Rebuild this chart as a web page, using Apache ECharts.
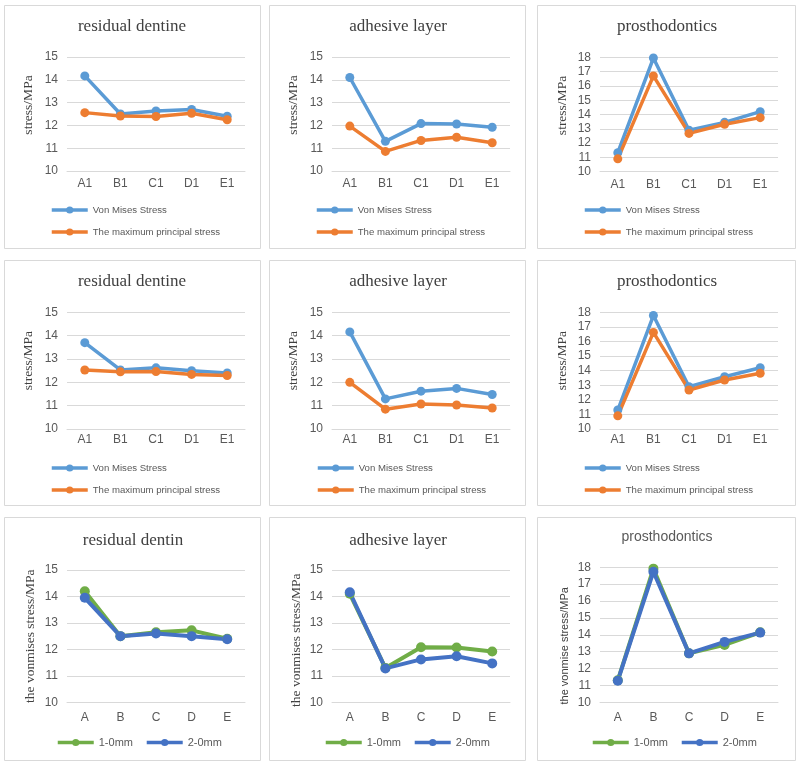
<!DOCTYPE html>
<html><head><meta charset="utf-8">
<script src="https://cdn.jsdelivr.net/npm/echarts@6/dist/echarts.min.js"></script>
<style>html,body{margin:0;padding:0;background:#fff}#c{width:800px;height:766px}</style>
</head><body><div id="c"></div>
<script>
// ---- data ----
const catsNumbered = ['A1', 'B1', 'C1', 'D1', 'E1'];
const catsPlain = ['A', 'B', 'C', 'D', 'E'];
const seriesNamesStress = ['Von Mises Stress', 'The maximum principal stress'];
const seriesNamesGap = ['1-0mm', '2-0mm'];
const titles = ['residual dentine', 'adhesive layer', 'prosthodontics',
                'residual dentine', 'adhesive layer', 'prosthodontics',
                'residual dentin', 'adhesive layer', 'prosthodontics'];
const yNames = ['stress/MPa', 'stress/MPa', 'stress/MPa',
                'stress/MPa', 'stress/MPa', 'stress/MPa',
                'the vonmises stress/MPa', 'the vonmises stress/MPa', 'the vonmise stress/MPa'];
const yTicksSmall = [10, 11, 12, 13, 14, 15];
const yTicksLarge = [10, 11, 12, 13, 14, 15, 16, 17, 18];

const dentine1Von = [14.17, 12.5, 12.63, 12.7, 12.4];
const dentine1Max = [12.56, 12.41, 12.39, 12.53, 12.25];
const adhesive1Von = [14.1, 11.3, 12.08, 12.06, 11.92];
const adhesive1Max = [11.97, 10.86, 11.34, 11.48, 11.24];
const prosth1Von = [11.33, 17.95, 12.9, 13.45, 14.2];
const prosth1Max = [10.9, 16.7, 12.68, 13.32, 13.78];

const dentine2Von = [13.7, 12.53, 12.62, 12.5, 12.4];
const dentine2Max = [12.53, 12.45, 12.46, 12.34, 12.29];
const adhesive2Von = [14.16, 11.29, 11.62, 11.74, 11.48];
const adhesive2Max = [12.0, 10.85, 11.07, 11.03, 10.9];
const prosth2Von = [11.3, 17.78, 12.9, 13.58, 14.2];
const prosth2Max = [10.9, 16.62, 12.67, 13.36, 13.82];

const dentin3Gap1 = [14.2, 12.5, 12.65, 12.72, 12.4];
const dentin3Gap2 = [13.95, 12.5, 12.6, 12.5, 12.38];
const adhesive3Gap1 = [14.1, 11.3, 12.08, 12.07, 11.92];
const adhesive3Gap2 = [14.16, 11.28, 11.62, 11.74, 11.47];
const prosth3Gap1 = [11.3, 17.92, 12.9, 13.4, 14.15];
const prosth3Gap2 = [11.28, 17.74, 12.9, 13.58, 14.13];

const panelData = [
  [dentine1Von, dentine1Max], [adhesive1Von, adhesive1Max], [prosth1Von, prosth1Max],
  [dentine2Von, dentine2Max], [adhesive2Von, adhesive2Max], [prosth2Von, prosth2Max],
  [dentin3Gap1, dentin3Gap2], [adhesive3Gap1, adhesive3Gap2], [prosth3Gap1, prosth3Gap2]
];

// ---- layout / style ----
const SERIF = '"Liberation Serif","Times New Roman",serif';
const SANS = '"Liberation Sans",Arial,sans-serif';
const colorsStress = ['#5B9BD5', '#ED7D31'];
const colorsGap = ['#70AD47', '#4472C4'];
const boxes = [
  [4, 5, 256, 243], [269, 5, 256, 243], [537, 5, 258, 243],
  [4, 260, 256, 245], [269, 260, 256, 245], [537, 260, 258, 245],
  [4, 517, 256, 243], [269, 517, 256, 243], [537, 517, 258, 243]
];
const grids = [
  [67, 57, 178, 114], [332, 57, 178, 114], [600, 57.3, 178, 114.4],
  [67, 312.3, 178, 116.7], [332, 312.3, 178, 116.7], [600, 312.3, 178, 116.7],
  [67, 570, 178, 132.3], [332, 570, 178, 132.3], [600, 567.3, 178, 135]
];
const titlePos = [[132, 18], [398, 18], [667, 18], [132, 273], [398, 273], [667, 273], [133, 532], [398, 532], [667, 530]];
const nameGaps = [32, 32, 31, 32, 32, 31, 30, 29, 30];
const nameShift = [9, 9, 9, 10, 10, 10, 0, -4, -11]; // +up, -down
const xLabelMargin = [7, 7, 7, 5, 5, 5, 9, 9, 9];
const legendPos = [[50, 205], [315, 205], [583, 205], [50, 463], [316, 463], [583, 463], [56, 737], [324, 737], [591, 737]];

const option = {
  animation: false,
  backgroundColor: '#ffffff',
  title: [], grid: [], xAxis: [], yAxis: [], series: [], legend: [], graphic: []
};

for (let i = 0; i < 9; i++) {
  const bottomRow = i >= 6;
  const large = (i % 3) === 2;
  const sansTitle = i === 8;
  const b = boxes[i];
  option.graphic.push({
    type: 'rect', silent: true, z: -1,
    shape: { x: b[0] + 0.5, y: b[1] + 0.5, width: b[2], height: b[3] },
    style: { fill: 'none', stroke: '#D9D9D9', lineWidth: 1 }
  });
  option.title.push({
    text: titles[i], left: titlePos[i][0], top: titlePos[i][1], textAlign: 'center', padding: 0,
    textStyle: {
      fontFamily: sansTitle ? SANS : SERIF, fontWeight: 'normal',
      fontSize: sansTitle ? 14 : 17, color: sansTitle ? '#595959' : '#404040'
    }
  });
  const g = grids[i];
  option.grid.push({ left: g[0], top: g[1], width: g[2], height: g[3], containLabel: false });
  option.xAxis.push({
    type: 'category', gridIndex: i, data: bottomRow ? catsPlain : catsNumbered,
    boundaryGap: true,
    axisLine: { lineStyle: { color: '#D9D9D9', width: 1 } },
    axisTick: { show: false },
    axisLabel: { color: '#595959', fontSize: 12, fontFamily: SANS, margin: xLabelMargin[i] }
  });
  const ticks = large ? yTicksLarge : yTicksSmall;
  const sh = nameShift[i];
  const sansName = i === 8;
  option.yAxis.push({
    type: 'value', gridIndex: i, min: ticks[0], max: ticks[ticks.length - 1], interval: 1,
    name: yNames[i], nameLocation: 'middle', nameRotate: 90, nameGap: nameGaps[i],
    nameTextStyle: {
      fontFamily: sansName ? SANS : SERIF, fontSize: sansName ? 11 : 13.5, color: '#404040',
      padding: sh >= 0 ? [0, 0, 0, 2 * sh] : [0, -2 * sh, 0, 0]
    },
    axisLine: { show: false }, axisTick: { show: false },
    splitLine: { lineStyle: { color: '#D9D9D9', width: 1 } },
    axisLabel: { color: '#595959', fontSize: 12, fontFamily: SANS, margin: 9 }
  });
  const names = bottomRow ? seriesNamesGap : seriesNamesStress;
  const cols = bottomRow ? colorsGap : colorsStress;
  for (let s = 0; s < 2; s++) {
    option.series.push({
      type: 'line', name: names[s], xAxisIndex: i, yAxisIndex: i,
      data: panelData[i][s], symbol: 'circle', symbolSize: bottomRow ? 10 : 9,
      color: cols[s],
      lineStyle: { color: cols[s], width: bottomRow ? 4 : 3.5 },
      itemStyle: { color: cols[s] }
    });
  }
  option.legend.push({
    data: names.slice(), orient: bottomRow ? 'horizontal' : 'vertical',
    left: legendPos[i][0], top: legendPos[i][1], padding: 0,
    itemWidth: 36, itemHeight: 9, itemGap: bottomRow ? 12 : 12,
    selectedMode: false,
    lineStyle: { width: 3.5 },
    textStyle: { color: '#595959', fontFamily: SANS, fontSize: bottomRow ? 11 : 9.6 }
  });
}

const chart = echarts.init(document.getElementById('c'), null, { renderer: 'canvas' });
chart.setOption(option);
</script>
</body></html>
